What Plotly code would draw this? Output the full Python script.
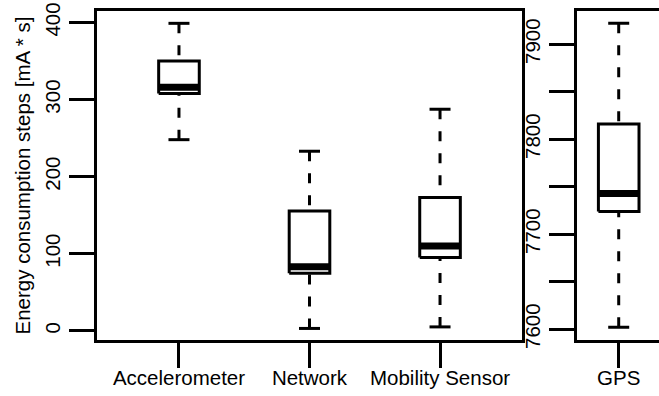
import plotly.graph_objects as go

# ---- data ----
left_names = ["Accelerometer", "Network", "Mobility Sensor"]
left_lower = [248, 3, 5]
left_q1 = [308, 74.5, 95]
left_median = [316, 83, 110]
left_q3 = [350, 155.5, 173]
left_upper = [399, 233, 287.5]

right_names = ["GPS"]
right_lower = [7602]
right_q1 = [7724]
right_median = [7743]
right_q3 = [7816]
right_upper = [7922]

left_yticks = [0, 100, 200, 300, 400]
right_yticks = [7600, 7650, 7700, 7750, 7800, 7850, 7900]
right_yticktext = ["7600", "", "7700", "", "7800", "", "7900"]

# ---- layout geometry ----
W, H = 659, 396
FONT = "Liberation Sans, Arial, Helvetica, sans-serif"
FS = 20.5
top_px, bot_px = 11, 340
L_dom = (97 / W, 522 / W)
R_dom = (576.7 / W, 1.0)
y_dom = (1 - bot_px / H, 1 - top_px / H)
L_xrange = [0.372, 3.628]
R_xrange = [0.46, 1.518]
L_yrange = [-12, 415]
R_yrange = [7588.7, 7935]

BOX_HALF_PX = 20.3
STAPLE_HALF_PX = 10.5


def units_per_px(xrange, dom):
    return (xrange[1] - xrange[0]) / ((dom[1] - dom[0]) * W)


def box_traces(names, lo, q1, med, q3, hi, xref, yref, upp):
    bh = BOX_HALF_PX * upp
    sh = STAPLE_HALF_PX * upp
    bx, by, mx, my, wx, wy, sx, sy = [], [], [], [], [], [], [], []
    for i in range(len(names)):
        c = i + 1
        bx += [c - bh, c + bh, c + bh, c - bh, c - bh, None]
        by += [q1[i], q1[i], q3[i], q3[i], q1[i], None]
        mx += [c - bh, c + bh, None]
        my += [med[i], med[i], None]
        wx += [c, c, None, c, c, None]
        wy += [hi[i], q3[i], None, lo[i], q1[i], None]
        sx += [c - sh, c + sh, None, c - sh, c + sh, None]
        sy += [hi[i], hi[i], None, lo[i], lo[i], None]
    common = dict(mode="lines", xaxis=xref, yaxis=yref, hoverinfo="skip", showlegend=False)
    return [
        go.Scatter(x=wx, y=wy, line=dict(color="black", width=3, dash="10px,12px"), **common),
        go.Scatter(x=sx, y=sy, line=dict(color="black", width=3), **common),
        go.Scatter(x=bx, y=by, fill="toself", fillcolor="white",
                   line=dict(color="black", width=3), **common),
        go.Scatter(x=mx, y=my, line=dict(color="black", width=7), **common),
    ]


fig = go.Figure()
for t in box_traces(left_names, left_lower, left_q1, left_median, left_q3, left_upper,
                    "x", "y", units_per_px(L_xrange, L_dom)):
    fig.add_trace(t)
for t in box_traces(right_names, right_lower, right_q1, right_median, right_q3, right_upper,
                    "x2", "y2", units_per_px(R_xrange, R_dom)):
    fig.add_trace(t)

axis_common = dict(showgrid=False, zeroline=False, ticks="outside", ticklen=25, tickwidth=2.5,
                   tickcolor="black", showline=True, linecolor="black", linewidth=2.5,
                   automargin=False,
                   tickfont=dict(family=FONT, size=FS, color="black"))

fig.update_layout(
    width=W, height=H,
    margin=dict(l=0, r=0, t=0, b=0, pad=0, autoexpand=False),
    paper_bgcolor="white", plot_bgcolor="white",
    font=dict(family=FONT, size=FS, color="black"),
    xaxis=dict(domain=list(L_dom), range=L_xrange, tickvals=[1, 2, 3], ticktext=left_names,
               mirror=True, anchor="y", ticklabelstandoff=-7, **axis_common),
    yaxis=dict(domain=list(y_dom), range=L_yrange, tickvals=left_yticks,
               ticktext=[str(v) for v in left_yticks], tickangle=-90, mirror=True,
               anchor="x", ticklabelstandoff=1, **axis_common),
    xaxis2=dict(domain=list(R_dom), range=R_xrange, tickvals=[1], ticktext=right_names,
                mirror=True, anchor="y2", ticklabelstandoff=-7, **axis_common),
    yaxis2=dict(domain=list(y_dom), range=R_yrange, tickvals=right_yticks,
                ticktext=right_yticktext, tickangle=-90, anchor="x2",
                ticklabelstandoff=1, **axis_common),
    annotations=[dict(text="Energy consumption steps [mA * s]", xref="paper", yref="paper",
                      x=22 / W, y=1 - 175.5 / H, textangle=-90, showarrow=False,
                      xanchor="center", yanchor="middle",
                      font=dict(family=FONT, size=FS, color="black"))],
)

fig.write_html("out.html", config={"displayModeBar": False},
               post_script="document.body.style.margin='0';document.body.style.overflow='hidden';")
